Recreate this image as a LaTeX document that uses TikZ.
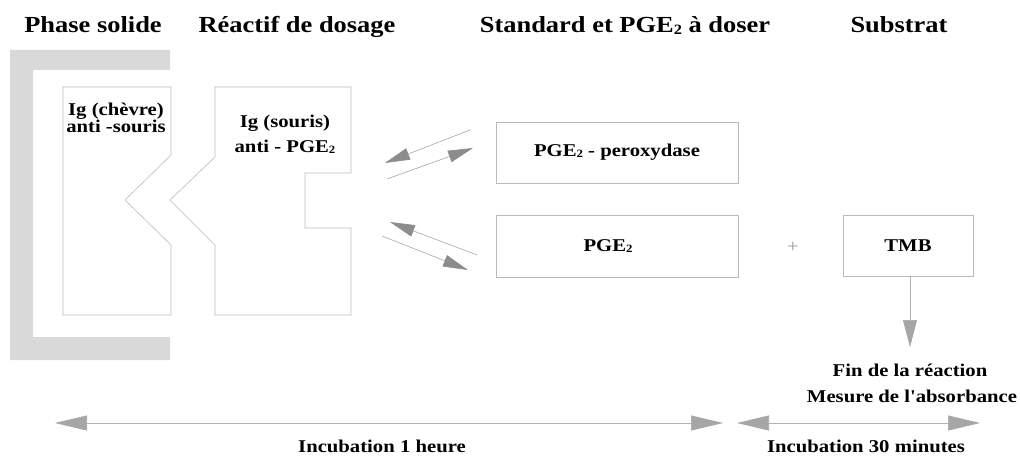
\documentclass[tikz,border=0pt]{standalone}
\usepackage{fontspec}
\setmainfont{Liberation Serif}[FakeStretch=1.15, Ligatures=TeXOff]
\usetikzlibrary{arrows.meta}
\newcommand\pgesub{\raisebox{-0.12ex}{\scalebox{0.62}{2}}}
\tikzset{
  header/.style={font=\bfseries\fontsize{23}{26}\selectfont, anchor=base, inner sep=0pt},
  body/.style={font=\bfseries\fontsize{18}{21}\selectfont, anchor=base, inner sep=0pt},
  outline/.style={draw=black!27, line width=0.6pt},
  boxnode/.style={outline, rectangle, font=\bfseries\fontsize{18}{21}\selectfont, inner sep=0pt},
  smallarrow/.style={draw=black!35, line width=0.6pt, -{Triangle[length=25pt,width=12pt,color=black!45]}},
  bigarrows/.style={draw=black!30, line width=0.6pt, {Triangle[length=32pt,width=15pt,color=black!35]}-{Triangle[length=32pt,width=15pt,color=black!35]}},
}
\begin{document}
\begin{tikzpicture}[x=1pt,y=-1pt]
\useasboundingbox (0,0) rectangle (1020,457);
% headers
\node[header] (h1) at (93,33) {Phase solide};
\node[header] (h2) at (297,33) {Réactif de dosage};
\node[header] (h3) at (625,33) {Standard et PGE\pgesub{} à doser};
\node[header] (h4) at (899,33) {Substrat};
% solid phase bracket
\fill[black!15] (10,50) -- (170,50) -- (170,70) -- (33,70) -- (33,337) -- (170,337) -- (170,360) -- (10,360) -- cycle;
% box 1 (goat Ig)
\draw[outline] (63,87) -- (171,87) -- (171,155) -- (125,200) -- (171,245) -- (171,315) -- (63,315) -- cycle;
\node[body] (b1a) at (116,116) {Ig (chèvre)};
\node[body] (b1b) at (116,133) {anti -souris};
% box 2 (mouse Ig)
\draw[outline] (215,87) -- (351,87) -- (351,173) -- (305,173) -- (305,228) -- (351,228) -- (351,315) -- (215,315) -- (215,245) -- (170,200) -- (215,157) -- cycle;
\node[body] (b2a) at (285,128) {Ig (souris)};
\node[body] (b2b) at (285,153) {anti - PGE\pgesub};
% boxes 3, 4, TMB
\node[boxnode, minimum width=242pt, minimum height=61pt] (pgep) at (617,152.5) {PGE\pgesub{} - peroxydase};
\node[boxnode, minimum width=242pt, minimum height=62pt] (pge) at (617,246) {\hspace*{-18pt}PGE\pgesub};
\node[boxnode, minimum width=130pt, minimum height=61pt] (tmb) at (908,245.5) {TMB};
\node[font=\fontsize{18}{18}\selectfont, text=black!40, inner sep=0pt] (plus) at (793,247) {+};
% reversible arrows
\coordinate (a1s) at (470,130); \coordinate (a1e) at (385,163);
\coordinate (a2s) at (387,179); \coordinate (a2e) at (473,148);
\coordinate (a3s) at (477,255); \coordinate (a3e) at (390,222);
\coordinate (a4s) at (382,236); \coordinate (a4e) at (468,270);
\draw[smallarrow] (a1s) -- (a1e);
\draw[smallarrow] (a2s) -- (a2e);
\draw[smallarrow] (a3s) -- (a3e);
\draw[smallarrow] (a4s) -- (a4e);
% TMB down arrow
\coordinate (end) at (910,347);
\draw[draw=black!30, line width=0.6pt, -{Triangle[length=27pt,width=14pt,color=black!35]}] (tmb.south -| end) -- (end);
\node[body] (fin) at (910,376) {Fin de la réaction};
\node[body] (mes) at (912,402) {Mesure de l'absorbance};
% timeline
\coordinate (t1) at (55,423); \coordinate (t2) at (723,423);
\coordinate (t3) at (737,423); \coordinate (t4) at (980,423);
\draw[bigarrows] (t1) -- (t2);
\draw[bigarrows] (t3) -- (t4);
\node[body] (inc1) at (382,452) {Incubation 1 heure};
\node[body] (inc2) at (866,452) {Incubation 30 minutes};
\end{tikzpicture}
\end{document}
